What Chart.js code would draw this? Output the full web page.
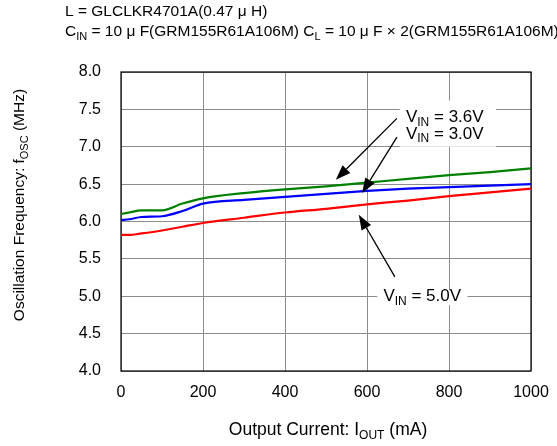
<!DOCTYPE html>
<html lang="en">
<head>
<meta charset="utf-8" />
<title>Oscillation Frequency vs Output Current</title>
<script src="https://cdn.jsdelivr.net/npm/chart.js@4.4.1/dist/chart.umd.min.js"></script>
<style>
  *{box-sizing:border-box;}
  body{margin:0;background:#fff;}
  #wrap{position:relative;width:557px;height:446px;}
</style>
</head>
<body>
<div id="wrap"><canvas id="c" width="557" height="446"></canvas></div>
<script>
// values (mA / MHz)
const currents = [0, 20, 50, 100, 150, 200, 300, 400, 500, 600, 700, 800, 900, 1000];
const vin36 = [6.10, 6.12, 6.15, 6.15, 6.24, 6.31, 6.38, 6.43, 6.47, 6.52, 6.57, 6.62, 6.66, 6.71];
const vin30 = [6.02, 6.03, 6.06, 6.07, 6.14, 6.24, 6.29, 6.33, 6.37, 6.41, 6.44, 6.46, 6.48, 6.50];
const vin50 = [5.82, 5.82, 5.84, 5.88, 5.93, 5.98, 6.05, 6.12, 6.17, 6.23, 6.28, 6.34, 6.39, 6.44];
const xTicks = [0, 200, 400, 600, 800, 1000];
const yTicks = [4.0, 4.5, 5.0, 5.5, 6.0, 6.5, 7.0, 7.5, 8.0];

const FONT = '"Liberation Sans", Arial, sans-serif';
const pts = (ys) => currents.map((x, i) => ({ x, y: ys[i] }));

// draw text runs with optional subscript pieces
function runs(ctx, parts, x, y, size, align) {
  const sub = Math.round(size * 0.7);
  const w = parts.reduce((a, p) => { ctx.font = `${p[1] ? sub : size}px ${FONT}`; return a + ctx.measureText(p[0]).width; }, 0);
  let cx = align === 'center' ? x - w / 2 : x;
  ctx.textBaseline = 'middle';
  ctx.textAlign = 'left';
  for (const [t, isSub] of parts) {
    ctx.font = `${isSub ? sub : size}px ${FONT}`;
    ctx.fillText(t, cx, isSub ? y + size * 0.3 : y);
    cx += ctx.measureText(t).width;
  }
}

function arrow(ctx, x1, y1, x2, y2) {
  const a = Math.atan2(y2 - y1, x2 - x1), L = 15, W = 5.5;
  const bx = x2 - L * Math.cos(a), by = y2 - L * Math.sin(a);
  ctx.beginPath(); ctx.moveTo(x1, y1); ctx.lineTo(bx, by); ctx.lineWidth = 1.3; ctx.strokeStyle = '#000'; ctx.stroke();
  ctx.beginPath();
  ctx.moveTo(x2, y2);
  ctx.lineTo(bx + W * Math.sin(a), by - W * Math.cos(a));
  ctx.lineTo(bx - W * Math.sin(a), by + W * Math.cos(a));
  ctx.closePath(); ctx.fillStyle = '#000'; ctx.fill();
}

const decor = {
  id: 'decor',
  beforeDatasetsDraw(chart) {
    const { ctx, chartArea: a } = chart;
    ctx.save();
    ctx.strokeStyle = '#000'; ctx.lineWidth = 1.2;
    ctx.strokeRect(a.left, a.top, a.right - a.left, a.bottom - a.top);
    ctx.restore();
  },
  afterDatasetsDraw(chart) {
    const { ctx, scales: { x, y } } = chart;
    const px = (v) => x.getPixelForValue(v), py = (v) => y.getPixelForValue(v);
    ctx.save();
    ctx.fillStyle = '#000';
    // header
    runs(ctx, [['L = GLCLKR4701A(0.47 \u03bc H)']], 65, 12, 15.5);
    runs(ctx, [['C'], ['IN', 1], [' = 10 \u03bc F(GRM155R61A106M) C'], ['L', 1], [' = 10 \u03bc F \u00d7 2(GRM155R61A106M)']], 65, 32, 15.5);
    // axis titles
    runs(ctx, [['Output Current: I'], ['OUT', 1], [' (mA)']], 328, 430, 17.5, 'center');
    ctx.save();
    ctx.translate(20, 205);
    ctx.rotate(-Math.PI / 2);
    runs(ctx, [['Oscillation Frequency: f'], ['OSC', 1], [' (MHz)']], 0, 0, 15.5, 'center');
    ctx.restore();
    // labels with white boxes
    ctx.fillStyle = '#fff';
    ctx.fillRect(px(680), py(7.62), px(915) - px(680), py(7.0) - py(7.62));
    ctx.fillRect(px(625), py(5.08), px(845) - px(625), py(4.88) - py(5.08));
    ctx.fillStyle = '#000';
    runs(ctx, [['V'], ['IN', 1], [' = 3.6V']], px(695), py(7.39), 17);
    runs(ctx, [['V'], ['IN', 1], [' = 3.0V']], px(695), py(7.17), 17);
    runs(ctx, [['V'], ['IN', 1], [' = 5.0V']], px(640), py(5.0), 17);
    arrow(ctx, px(673), py(7.38), px(524), py(6.56));
    arrow(ctx, px(673), py(7.13), px(588), py(6.38));
    arrow(ctx, px(668), py(5.26), px(580), py(6.09));
    ctx.restore();
  }
};

const line = (data, color) => ({
  data: pts(data), borderColor: color, borderWidth: 2.2, pointRadius: 0,
  cubicInterpolationMode: 'monotone', fill: false
});

new Chart(document.getElementById('c'), {
  type: 'line',
  data: { datasets: [line(vin36, '#008000'), line(vin30, '#0000ff'), line(vin50, '#ff0000')] },
  options: {
    responsive: false, animation: false,
    layout: { padding: { top: 72, right: 26, left: 0, bottom: 0 } },
    plugins: { legend: { display: false }, tooltip: { enabled: false } },
    scales: {
      x: {
        type: 'linear', min: 0, max: 1000,
        afterFit: (s) => { s.height = 75; s.paddingLeft = 0; s.paddingRight = 0; },
        afterBuildTicks: (s) => { s.ticks = xTicks.map(v => ({ value: v })); },
        grid: { color: '#8c8c8c', lineWidth: 1, tickLength: 0 },
        border: { display: false },
        ticks: { color: '#000', font: { family: FONT, size: 16 }, padding: 12, maxRotation: 0, callback: (v) => String(v) }
      },
      y: {
        min: 4, max: 8,
        afterFit: (s) => { s.width = 121; s.paddingTop = 0; s.paddingBottom = 0; },
        afterBuildTicks: (s) => { s.ticks = yTicks.map(v => ({ value: v })); },
        grid: { color: '#8c8c8c', lineWidth: 1, tickLength: 0 },
        border: { display: false },
        ticks: { color: '#000', font: { family: FONT, size: 16 }, padding: 20, callback: (v) => v.toFixed(1) }
      }
    }
  },
  plugins: [decor]
});
</script>
</body>
</html>
